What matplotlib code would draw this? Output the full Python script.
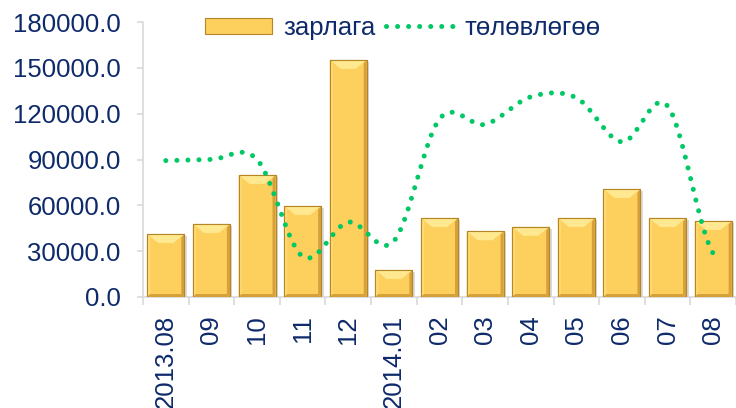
import numpy as np
import matplotlib
matplotlib.use("Agg")
import matplotlib.pyplot as plt
from matplotlib.patches import Polygon, Rectangle
from matplotlib.lines import Line2D
from matplotlib.patches import Patch

categories = ["2013.08", "09", "10", "11", "12", "2014.01", "02", "03", "04", "05", "06", "07", "08"]
expense = [41200, 47800, 79900, 59600, 155200, 17700, 51700, 43000, 45900, 51700, 70700, 51700, 49800]
plan = [89300, 90000, 90000, 26500, 49000, 36600, 116500, 113000, 131000, 130400, 101500, 125000, 28500]
yticks = [0, 30000, 60000, 90000, 120000, 150000, 180000]
legend_labels = ["зарлага", "төлөвлөгөө"]

TXT = "#0E2A6B"
plt.rcParams['font.family'] = ['Liberation Sans', 'DejaVu Sans']
FS = 18.5

W, H = 736, 408
fig = plt.figure(figsize=(W / 100, H / 100), dpi=100)
left, right, bottom, top = 143 / W, 1.0, 1 - 297 / H, 1 - 22 / H
ax = fig.add_axes([left, bottom, right - left, top - bottom])
xmin, xmax = -0.5, 12.46
ax.set_xlim(xmin, xmax)
ax.set_ylim(0, 180000)

ppx = (right - left) * W / (xmax - xmin)
ppy = (top - bottom) * H / 180000

x = np.arange(len(categories))
bw = 0.81
bars = ax.bar(x, expense, width=bw, color="#FDCF5C", edgecolor="#B58526", linewidth=0.8, zorder=3)

# bevel decorations derived from bar geometry
for xi, h in zip(x, expense):
    xl, xr = xi - bw / 2, xi + bw / 2
    dx = 11 / ppx
    dy = 9 / ppy
    sx = 3 / ppx
    sy = 3 / ppy
    ax.add_patch(Rectangle((xl + 2.5 / ppx, -2 / ppy), bw, h, facecolor="#9a9a9a", alpha=0.35,
                           edgecolor="none", zorder=2))
    ax.add_patch(Polygon([(xl, h), (xr, h), (xr - dx, h - dy), (xl + dx, h - dy)], closed=True,
                         facecolor="#FFE88F", edgecolor="none", zorder=4))
    ax.add_patch(Polygon([(xl, h), (xl + sx, h - dy * 0.4), (xl + sx, sy), (xl, 0)], closed=True,
                         facecolor="#FFDB74", edgecolor="none", zorder=4))
    ax.add_patch(Polygon([(xr, h), (xr - sx, h - dy * 0.4), (xr - sx, sy), (xr, 0)], closed=True,
                         facecolor="#D6A03A", edgecolor="none", zorder=4))
    ax.add_patch(Polygon([(xl, 0), (xr, 0), (xr - sx, sy), (xl + sx, sy)], closed=True,
                         facecolor="#D6A03A", edgecolor="none", zorder=4))
    ax.add_patch(Rectangle((xl, 0), bw, h, facecolor="none", edgecolor="#B58526", linewidth=0.8, zorder=5))

# smoothed plan line (Catmull-Rom style like Excel smoothing)
p = np.array(plan, dtype=float)
n = len(p)
m = np.zeros(n)
m[1:-1] = (p[2:] - p[:-2]) / 2
m[0] = (p[1] - p[0]) / 2
m[-1] = (p[-1] - p[-2]) / 2
xs, ys = [], []
for i in range(n - 1):
    t = np.linspace(0, 1, 40, endpoint=(i == n - 2))
    h00 = 2 * t**3 - 3 * t**2 + 1
    h10 = t**3 - 2 * t**2 + t
    h01 = -2 * t**3 + 3 * t**2
    h11 = t**3 - t**2
    xs.extend(i + t)
    ys.extend(h00 * p[i] + h10 * m[i] + h01 * p[i + 1] + h11 * m[i + 1])
DOT = (0, (0.01, 2.2))
ax.plot(xs, ys, color="#00C864", linewidth=3.6, linestyle=DOT,
        dash_capstyle="round", zorder=6)

for s in ["top", "right"]:
    ax.spines[s].set_visible(False)
ax.spines["left"].set_color("#D9D9D9")
ax.spines["bottom"].set_color("#D9D9D9")
ax.spines["left"].set_linewidth(1.2)
ax.spines["bottom"].set_linewidth(1.2)
ax.set_yticks(yticks)
ax.set_yticklabels([f"{v:.1f}" for v in yticks], fontsize=FS, color=TXT)
ax.tick_params(axis="y", length=4, color="#D9D9D9", width=1.2, pad=12)
ax.set_xticks(x)
ax.set_xticklabels(categories, rotation=90, fontsize=FS, color=TXT, va="top", ha="center")
ax.tick_params(axis="x", length=0, pad=13)
ax.set_xticks(np.arange(-0.5, 13, 1.0), minor=True)
ax.tick_params(axis="x", which="minor", length=6, color="#D9D9D9", width=1.2)

handles = [Patch(facecolor="#FDCF5C", edgecolor="#B58526", linewidth=0.8),
           Line2D([], [], color="#00C864", linewidth=3.6, linestyle=DOT, dash_capstyle="round")]
leg = fig.legend(handles, legend_labels, loc="center left", bbox_to_anchor=(205 / W, 1 - 28 / H),
                 ncol=2, frameon=False, fontsize=FS, handlelength=2.6, handleheight=0.6,
                 handletextpad=0.45, columnspacing=0.4, borderpad=0, borderaxespad=0)
for t in leg.get_texts():
    t.set_color(TXT)

fig.savefig("out.png", dpi=100)
